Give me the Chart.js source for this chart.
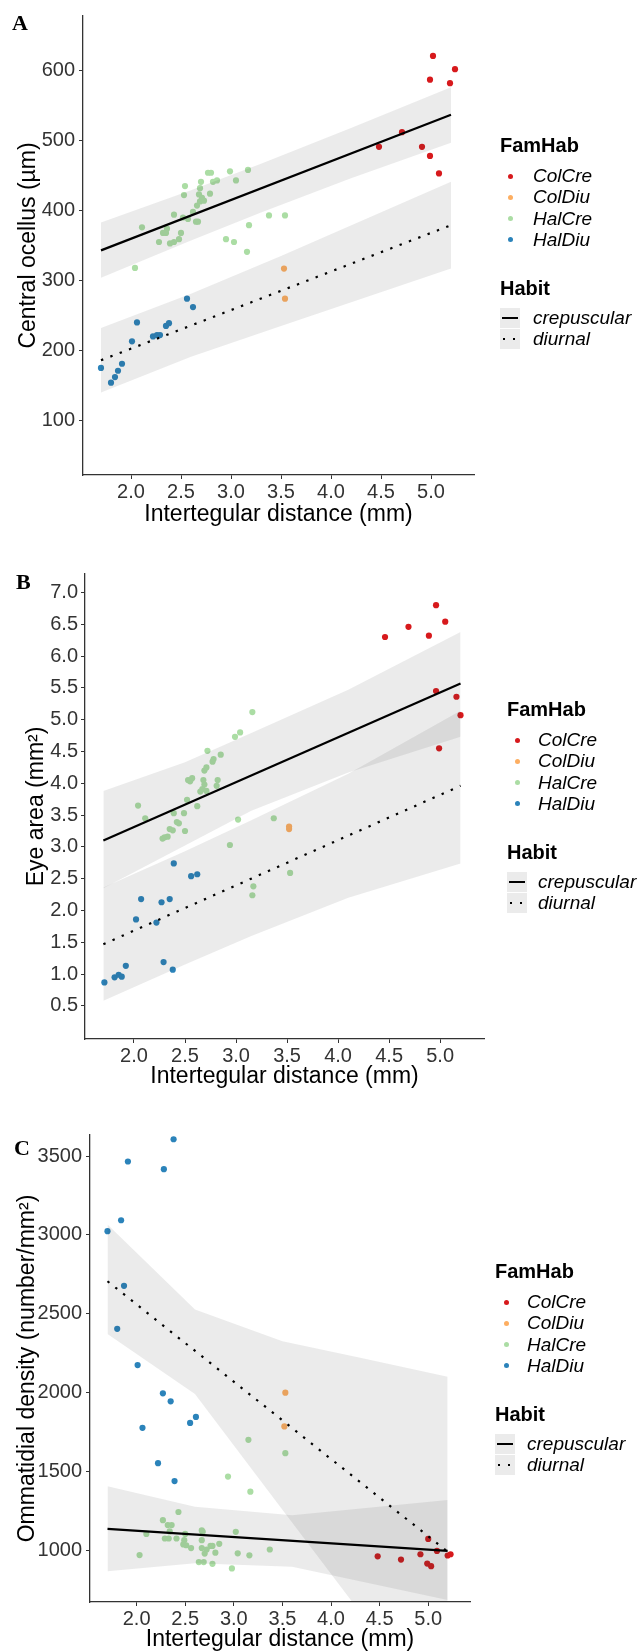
<!DOCTYPE html>
<html>
<head>
<meta charset="utf-8">
<title>Ocelli, eye area and ommatidial density vs intertegular distance</title>
<script src="https://cdn.jsdelivr.net/npm/chart.js@4.4.1/dist/chart.umd.min.js"></script>
<style>
  html, body { margin: 0; padding: 0; background: #fff; }
  body { position: relative; width: 642px; height: 1652px; overflow: hidden; font-family: "Liberation Sans", Arial, sans-serif; }
  canvas { position: absolute; left: 0; }
  .tag { position: absolute; font: bold 22px "Liberation Serif", "Times New Roman", serif; line-height: 24px; color: #000; }
  .lg { position: absolute; line-height: 22px; white-space: nowrap; color: #000; }
  .lg.title { font-weight: bold; font-size: 20px; }
  .lg.item { font-style: italic; font-size: 19px; }
  .dot { position: absolute; width: 5px; height: 5px; border-radius: 50%; }
  .key { position: absolute; width: 20px; height: 20px; background: #ebebeb; }
  .key .solid { position: absolute; left: 2px; right: 2px; top: 9px; height: 2px; background: #000; }
  .key .pip { position: absolute; top: 9px; width: 2px; height: 2px; background: #000; }
</style>
</head>
<body>
<canvas id="chartA" width="642" height="532" style="top:0px"></canvas>
<canvas id="chartB" width="642" height="554" style="top:540px"></canvas>
<canvas id="chartC" width="642" height="557" style="top:1100px"></canvas>
<div class="tag" style="left:12px;top:11px">A</div>
<div class="tag" style="left:16px;top:570px">B</div>
<div class="tag" style="left:14px;top:1136px">C</div>
<div id="legends"></div>

<script>
// shared x axis
const xTicks = [2.0, 2.5, 3.0, 3.5, 4.0, 4.5, 5.0];
const xMin = 1.52, xMax = 5.43;

const famNames = ['ColCre', 'ColDiu', 'HalCre', 'HalDiu'];
const famColors = ['#d7191c', '#fdae61', '#abdda4', '#2b83ba'];
const habitNames = ['crepuscular', 'diurnal'];

// A: central ocellus (µm)
const ocellusTicks = [100, 200, 300, 400, 500, 600];
const ocellusColCre = [[5.02,621],[5.24,602],[4.99,587],[5.19,582],[4.71,512],[4.48,491],[4.91,491],[4.99,478],[5.08,453]];
const ocellusColDiu = [[3.53,317],[3.54,274]];
const ocellusHalCre = [[2.04,318],[2.11,376],[2.28,355],[2.32,368],[2.35,368],[2.36,374],[2.39,353],[2.43,355],[2.43,394],
  [2.48,359],[2.50,368],[2.52,390],[2.53,422],[2.54,435],[2.57,388],[2.62,398],[2.65,384],[2.67,384],[2.66,407],[2.69,413],
  [2.68,423],[2.69,432],[2.70,441],[2.71,418],[2.73,414],[2.77,454],[2.80,454],[2.79,424],[2.82,441],[2.86,443],[2.95,359],
  [2.99,456],[3.03,355],[3.05,443],[3.16,341],[3.17,458],[3.18,379],[3.38,393],[3.54,393]];
const ocellusHalDiu = [[1.70,175],[1.80,154],[1.84,162],[1.87,171],[1.91,181],[2.01,213],[2.06,240],[2.22,220],[2.26,222],
  [2.29,222],[2.35,235],[2.38,239],[2.56,274],[2.62,262]];
const ocellusCrepLine = [[1.7,343],[5.2,537]];
const ocellusDiuLine = [[1.7,186],[5.2,379]];
const ocellusCrepBandX = [1.7, 2.6, 3.3, 4.2, 5.2];
const ocellusCrepLo = [304, 357, 397, 446, 497];
const ocellusCrepHi = [383, 429, 467, 518, 576];
const ocellusDiuBandX = [1.7, 2.6, 3.5, 5.2];
const ocellusDiuLo = [140, 191, 235, 317];
const ocellusDiuHi = [232, 281, 335, 441];

// B: eye area (mm²)
const eyeTicks = [0.5, 1.0, 1.5, 2.0, 2.5, 3.0, 3.5, 4.0, 4.5, 5.0, 5.5, 6.0, 6.5, 7.0];
const eyeColCre = [[4.96,6.80],[5.05,6.54],[4.69,6.46],[4.46,6.30],[4.89,6.32],[4.96,5.45],[5.16,5.36],[5.20,5.07],[4.99,4.55]];
const eyeColDiu = [[3.52,3.32],[3.52,3.28]];
const eyeHalCre = [[2.04,3.65],[2.11,3.45],[2.28,3.13],[2.30,3.15],[2.33,3.16],[2.35,3.28],[2.38,3.26],[2.39,3.53],[2.42,3.39],
  [2.44,3.37],[2.49,3.53],[2.50,3.25],[2.52,3.74],[2.53,4.05],[2.55,4.03],[2.57,4.08],[2.62,3.64],[2.65,3.87],[2.67,3.91],
  [2.68,4.05],[2.69,3.98],[2.69,4.20],[2.71,4.25],[2.71,3.88],[2.72,4.51],[2.77,4.34],[2.78,4.38],[2.81,3.96],[2.82,4.05],
  [2.85,4.45],[2.94,3.03],[2.99,4.73],[3.02,3.43],[3.04,4.80],[3.16,2.24],[3.16,5.12],[3.17,2.38],[3.37,3.45],[3.53,2.59]];
const eyeHalDiu = [[1.71,0.87],[1.81,0.95],[1.85,0.99],[1.88,0.96],[1.92,1.13],[2.02,1.86],[2.07,2.18],[2.22,1.81],[2.27,2.13],
  [2.29,1.19],[2.35,2.18],[2.38,1.07],[2.39,2.74],[2.56,2.54],[2.62,2.57]];
const eyeCrepLine = [[1.7,3.10],[5.2,5.57]];
const eyeDiuLine = [[1.7,1.47],[5.2,3.96]];
const eyeBandX = [1.7, 2.5, 3.15, 4.1, 5.2];
const eyeCrepLo = [2.35, 3.02, 3.57, 4.17, 4.73];
const eyeCrepHi = [3.88, 4.33, 4.79, 5.47, 6.38];
const eyeDiuLo = [0.58, 1.15, 1.60, 2.20, 2.74];
const eyeDiuHi = [2.36, 2.93, 3.42, 4.15, 5.14];

// C: ommatidial density (number/mm²)
const densityTicks = [1000, 1500, 2000, 2500, 3000, 3500];
const densityColCre = [[4.48,961],[4.72,940],[4.92,974],[5.00,1071],[4.99,915],[5.03,898],[5.09,995],[5.20,966],[5.23,974]];
const densityColDiu = [[3.53,1999],[3.52,1785]];
const densityHalCre = [[3.15,1700],[3.53,1615],[2.94,1467],[3.17,1371],[2.43,1242],[2.27,1190],[2.32,1159],[2.36,1159],
  [2.34,1119],[2.10,1103],[2.29,1074],[2.33,1074],[2.41,1074],[2.50,1103],[2.49,1063],[2.48,1036],[2.51,1031],[2.56,1013],
  [2.67,1125],[2.68,1116],[2.67,1063],[2.67,1013],[2.70,978],[2.72,1004],[2.76,1027],[2.78,1027],[2.85,1040],[2.81,984],
  [2.64,924],[2.69,924],[2.78,913],[2.98,884],[3.02,1116],[3.04,980],[3.16,967],[3.37,1004],[2.03,969]];
const densityHalDiu = [[2.38,3607],[1.91,3466],[2.28,3417],[1.84,3093],[1.70,3024],[1.87,2677],[1.80,2404],[2.01,2174],
  [2.27,1995],[2.35,1944],[2.61,1845],[2.55,1807],[2.06,1776],[2.22,1552],[2.39,1438]];
const densityCrepLine = [[1.7,1135],[5.2,995]];
const densityDiuLine = [[1.7,2706],[5.2,990]];
const densityCrepBandX = [1.7, 2.6, 3.6, 5.2];
const densityCrepLo = [866, 917, 895, 684];
const densityCrepHi = [1405, 1275, 1222, 1318];
const densityDiuBandX = [1.7, 2.6, 3.5, 4.3, 5.2];
const densityDiuLo = [2371, 1991, 1257, 605, -117];
const densityDiuHi = [3066, 2527, 2326, 2220, 2100];

const FONT = '"Liberation Sans", Arial, sans-serif';
const BAND = 'rgba(60,60,60,0.1)';
Chart.defaults.font.family = FONT;

const toXY = arr => arr.map(([x, y]) => ({x, y}));
const zipXY = (xs, ys) => xs.map((x, i) => ({x, y: ys[i]}));

function lineSet(data, dash) {
    return {
        data: toXY(data), borderColor: '#000', borderWidth: 2.2, borderDash: dash || [],
        borderCapStyle: 'butt', pointRadius: 0, fill: false,
    };
}

function bandSet(xs, ys, fill) {
    return {
        data: zipXY(xs, ys), borderColor: 'transparent', borderWidth: 0, pointRadius: 0,
        backgroundColor: BAND, fill: fill,
    };
}

function pointSet(data, color) {
    return {
        data: toXY(data), showLine: false, pointRadius: 3.1, pointBorderWidth: 0,
        pointBackgroundColor: color, borderColor: color,
    };
}

function makePanel(id, p) {
    const tickFont = { size: 20, family: FONT };
    const titleFont = { size: 23, family: FONT };
    new Chart(document.getElementById(id), {
        type: 'line',
        data: {
            datasets: [
                lineSet(p.crepLine),
                lineSet(p.diuLine, [2.4, 7.6]),
                bandSet(p.crepBandX, p.crepLo, false),
                bandSet(p.crepBandX, p.crepHi, '-1'),
                bandSet(p.diuBandX, p.diuLo, false),
                bandSet(p.diuBandX, p.diuHi, '-1'),
                ...p.groups.map((g, i) => pointSet(g, famColors[i])),
            ]
        },
        options: {
            responsive: false,
            animation: false,
            devicePixelRatio: 1,
            layout: { padding: { left: 0, top: p.padTop, right: p.padRight, bottom: 0 } },
            plugins: { legend: { display: false }, tooltip: { enabled: false } },
            scales: {
                x: {
                    type: 'linear', min: xMin, max: xMax,
                    afterBuildTicks: s => { s.ticks = xTicks.map(v => ({ value: v })); },
                    afterFit: s => { s.height = p.axisBottom; },
                    ticks: { callback: v => v.toFixed(1), color: '#333', font: tickFont, padding: 1, maxRotation: 0, autoSkip: false },
                    grid: { drawOnChartArea: false, tickLength: 4, tickColor: '#333' },
                    border: { color: '#333', width: 1.3 },
                    title: { display: true, text: 'Intertegular distance (mm)', color: '#000',
                             font: titleFont, padding: { top: 0, bottom: 4 } },
                },
                y: {
                    type: 'linear', min: p.yMin, max: p.yMax,
                    afterBuildTicks: s => { s.ticks = p.yTicks.map(v => ({ value: v })); },
                    afterFit: s => { s.width = p.axisLeft; },
                    ticks: { callback: p.fmt, color: '#333', font: tickFont, padding: p.tickPad, autoSkip: false },
                    grid: { drawOnChartArea: false, tickLength: 4, tickColor: '#333' },
                    border: { color: '#333', width: 1.3 },
                    title: { display: true, text: p.yTitle, color: '#000',
                             font: titleFont, padding: { top: p.titlePad, bottom: 0 } },
                }
            }
        }
    });
}

makePanel('chartA', {
    yTitle: 'Central ocellus (µm)', yTicks: ocellusTicks, yMin: 22, yMax: 678, fmt: v => String(v),
    padTop: 9, padRight: 168, axisLeft: 83, axisBottom: 57, titlePad: 15, tickPad: 4,
    groups: [ocellusColCre, ocellusColDiu, ocellusHalCre, ocellusHalDiu],
    crepLine: ocellusCrepLine, diuLine: ocellusDiuLine,
    crepBandX: ocellusCrepBandX, crepLo: ocellusCrepLo, crepHi: ocellusCrepHi,
    diuBandX: ocellusDiuBandX, diuLo: ocellusDiuLo, diuHi: ocellusDiuHi,
});

makePanel('chartB', {
    yTitle: 'Eye area (mm²)', yTicks: eyeTicks, yMin: -0.02, yMax: 7.29, fmt: v => v.toFixed(1),
    padTop: 34, padRight: 158, axisLeft: 85, axisBottom: 55, titlePad: 23, tickPad: 3,
    groups: [eyeColCre, eyeColDiu, eyeHalCre, eyeHalDiu],
    crepLine: eyeCrepLine, diuLine: eyeDiuLine,
    crepBandX: eyeBandX, crepLo: eyeCrepLo, crepHi: eyeCrepHi,
    diuBandX: eyeBandX, diuLo: eyeDiuLo, diuHi: eyeDiuHi,
});

makePanel('chartC', {
    yTitle: 'Ommatidial density (number/mm²)', yTicks: densityTicks, yMin: 671, yMax: 3634, fmt: v => String(v),
    padTop: 35, padRight: 172, axisLeft: 90, axisBottom: 55, titlePad: 14, tickPad: 4,
    groups: [densityColCre, densityColDiu, densityHalCre, densityHalDiu],
    crepLine: densityCrepLine, diuLine: densityDiuLine,
    crepBandX: densityCrepBandX, crepLo: densityCrepLo, crepHi: densityCrepHi,
    diuBandX: densityDiuBandX, diuLo: densityDiuLo, diuHi: densityDiuHi,
});

// legends (FamHab / Habit) beside each panel
function addLegend(L) {
    const host = document.getElementById('legends');
    const add = (cls, x, cy, text) => {
        const d = document.createElement('div');
        d.className = 'lg ' + cls;
        d.style.left = x + 'px';
        d.style.top = (cy - 11) + 'px';
        d.textContent = text;
        host.appendChild(d);
    };
    add('title', L.x, L.famY, 'FamHab');
    famNames.forEach((name, i) => {
        const cy = L.famY + 31 + i * 21.3;
        const dot = document.createElement('div');
        dot.className = 'dot';
        dot.style.left = (L.dotX - 2.5) + 'px';
        dot.style.top = (cy - 2.5) + 'px';
        dot.style.background = famColors[i];
        host.appendChild(dot);
        add('item', L.textX, cy, name);
    });
    const habitY = L.famY + 143;
    add('title', L.x, habitY, 'Habit');
    habitNames.forEach((name, i) => {
        const cy = habitY + 30 + i * 21;
        const key = document.createElement('div');
        key.className = 'key';
        key.style.left = L.x + 'px';
        key.style.top = (cy - 10) + 'px';
        key.innerHTML = i === 0 ? '<div class="solid"></div>'
            : '<div class="pip" style="left:3px"></div><div class="pip" style="left:13px"></div>';
        host.appendChild(key);
        add('item', L.textX, cy, name);
    });
}

addLegend({ x: 500, famY: 145, dotX: 510, textX: 533 });
addLegend({ x: 507, famY: 709, dotX: 517, textX: 538 });
addLegend({ x: 495, famY: 1271, dotX: 506, textX: 527 });
</script>
</body>
</html>
